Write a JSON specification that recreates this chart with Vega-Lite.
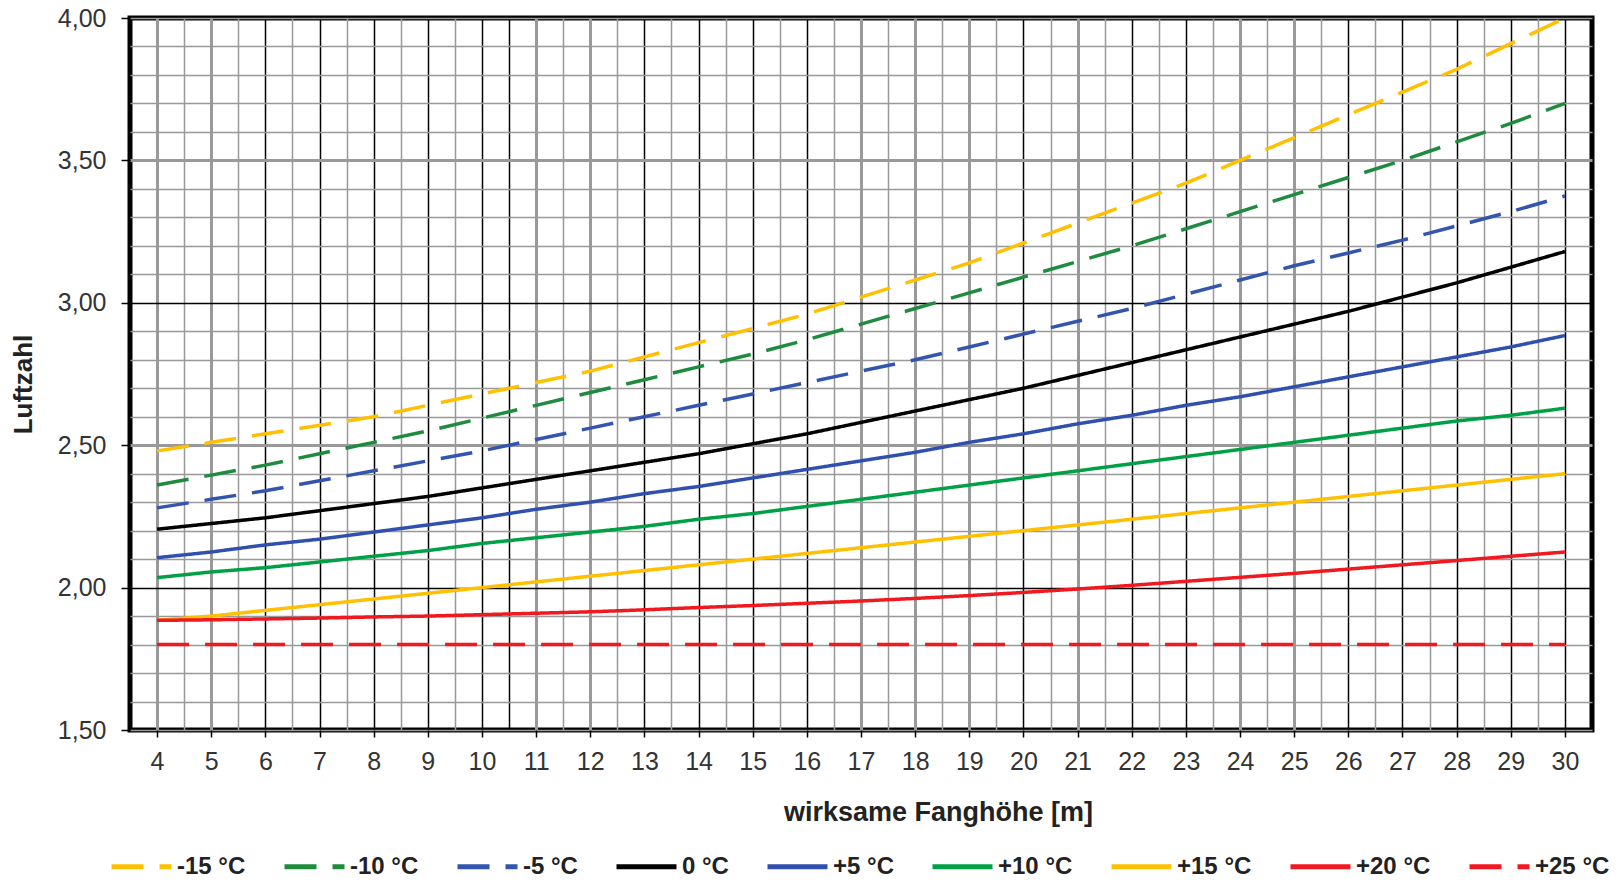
{
"$schema": "https://vega.github.io/schema/vega-lite/v6.json",
"width": 1462, "height": 712,
"autosize": {"type": "none"},
"padding": {"left": 130, "top": 18, "right": 29, "bottom": 151},
"background": "white",
"config": {"view": {"stroke": "#000", "strokeWidth": 5}, "font": "Liberation Sans"},
"data": {"values": [
{"h":4,"t":"-15 °C","v":2.48},{"h":5,"t":"-15 °C","v":2.51},{"h":6,"t":"-15 °C","v":2.54},{"h":7,"t":"-15 °C","v":2.57},{"h":8,"t":"-15 °C","v":2.60},{"h":9,"t":"-15 °C","v":2.64},{"h":10,"t":"-15 °C","v":2.68},{"h":11,"t":"-15 °C","v":2.72},{"h":12,"t":"-15 °C","v":2.76},{"h":13,"t":"-15 °C","v":2.81},{"h":14,"t":"-15 °C","v":2.86},{"h":15,"t":"-15 °C","v":2.91},{"h":16,"t":"-15 °C","v":2.96},{"h":17,"t":"-15 °C","v":3.02},{"h":18,"t":"-15 °C","v":3.08},{"h":19,"t":"-15 °C","v":3.14},{"h":20,"t":"-15 °C","v":3.21},{"h":21,"t":"-15 °C","v":3.28},{"h":22,"t":"-15 °C","v":3.35},{"h":23,"t":"-15 °C","v":3.42},{"h":24,"t":"-15 °C","v":3.50},{"h":25,"t":"-15 °C","v":3.58},{"h":26,"t":"-15 °C","v":3.66},{"h":27,"t":"-15 °C","v":3.74},{"h":28,"t":"-15 °C","v":3.82},{"h":29,"t":"-15 °C","v":3.91},{"h":30,"t":"-15 °C","v":4.00},
{"h":4,"t":"-10 °C","v":2.36},{"h":5,"t":"-10 °C","v":2.395},{"h":6,"t":"-10 °C","v":2.43},{"h":7,"t":"-10 °C","v":2.47},{"h":8,"t":"-10 °C","v":2.51},{"h":9,"t":"-10 °C","v":2.55},{"h":10,"t":"-10 °C","v":2.595},{"h":11,"t":"-10 °C","v":2.64},{"h":12,"t":"-10 °C","v":2.685},{"h":13,"t":"-10 °C","v":2.73},{"h":14,"t":"-10 °C","v":2.775},{"h":15,"t":"-10 °C","v":2.82},{"h":16,"t":"-10 °C","v":2.87},{"h":17,"t":"-10 °C","v":2.925},{"h":18,"t":"-10 °C","v":2.98},{"h":19,"t":"-10 °C","v":3.035},{"h":20,"t":"-10 °C","v":3.09},{"h":21,"t":"-10 °C","v":3.145},{"h":22,"t":"-10 °C","v":3.20},{"h":23,"t":"-10 °C","v":3.26},{"h":24,"t":"-10 °C","v":3.32},{"h":25,"t":"-10 °C","v":3.38},{"h":26,"t":"-10 °C","v":3.44},{"h":27,"t":"-10 °C","v":3.50},{"h":28,"t":"-10 °C","v":3.565},{"h":29,"t":"-10 °C","v":3.63},{"h":30,"t":"-10 °C","v":3.70},
{"h":4,"t":"-5 °C","v":2.28},{"h":5,"t":"-5 °C","v":2.31},{"h":6,"t":"-5 °C","v":2.34},{"h":7,"t":"-5 °C","v":2.375},{"h":8,"t":"-5 °C","v":2.41},{"h":9,"t":"-5 °C","v":2.445},{"h":10,"t":"-5 °C","v":2.48},{"h":11,"t":"-5 °C","v":2.52},{"h":12,"t":"-5 °C","v":2.56},{"h":13,"t":"-5 °C","v":2.60},{"h":14,"t":"-5 °C","v":2.64},{"h":15,"t":"-5 °C","v":2.68},{"h":16,"t":"-5 °C","v":2.72},{"h":17,"t":"-5 °C","v":2.76},{"h":18,"t":"-5 °C","v":2.80},{"h":19,"t":"-5 °C","v":2.845},{"h":20,"t":"-5 °C","v":2.89},{"h":21,"t":"-5 °C","v":2.935},{"h":22,"t":"-5 °C","v":2.98},{"h":23,"t":"-5 °C","v":3.03},{"h":24,"t":"-5 °C","v":3.08},{"h":25,"t":"-5 °C","v":3.13},{"h":26,"t":"-5 °C","v":3.175},{"h":27,"t":"-5 °C","v":3.22},{"h":28,"t":"-5 °C","v":3.27},{"h":29,"t":"-5 °C","v":3.32},{"h":30,"t":"-5 °C","v":3.375},
{"h":4,"t":"0 °C","v":2.205},{"h":5,"t":"0 °C","v":2.225},{"h":6,"t":"0 °C","v":2.245},{"h":7,"t":"0 °C","v":2.27},{"h":8,"t":"0 °C","v":2.295},{"h":9,"t":"0 °C","v":2.32},{"h":10,"t":"0 °C","v":2.35},{"h":11,"t":"0 °C","v":2.38},{"h":12,"t":"0 °C","v":2.41},{"h":13,"t":"0 °C","v":2.44},{"h":14,"t":"0 °C","v":2.47},{"h":15,"t":"0 °C","v":2.505},{"h":16,"t":"0 °C","v":2.54},{"h":17,"t":"0 °C","v":2.58},{"h":18,"t":"0 °C","v":2.62},{"h":19,"t":"0 °C","v":2.66},{"h":20,"t":"0 °C","v":2.70},{"h":21,"t":"0 °C","v":2.745},{"h":22,"t":"0 °C","v":2.79},{"h":23,"t":"0 °C","v":2.835},{"h":24,"t":"0 °C","v":2.88},{"h":25,"t":"0 °C","v":2.925},{"h":26,"t":"0 °C","v":2.97},{"h":27,"t":"0 °C","v":3.02},{"h":28,"t":"0 °C","v":3.07},{"h":29,"t":"0 °C","v":3.125},{"h":30,"t":"0 °C","v":3.18},
{"h":4,"t":"+5 °C","v":2.105},{"h":5,"t":"+5 °C","v":2.125},{"h":6,"t":"+5 °C","v":2.15},{"h":7,"t":"+5 °C","v":2.17},{"h":8,"t":"+5 °C","v":2.195},{"h":9,"t":"+5 °C","v":2.22},{"h":10,"t":"+5 °C","v":2.245},{"h":11,"t":"+5 °C","v":2.275},{"h":12,"t":"+5 °C","v":2.30},{"h":13,"t":"+5 °C","v":2.33},{"h":14,"t":"+5 °C","v":2.355},{"h":15,"t":"+5 °C","v":2.385},{"h":16,"t":"+5 °C","v":2.415},{"h":17,"t":"+5 °C","v":2.445},{"h":18,"t":"+5 °C","v":2.475},{"h":19,"t":"+5 °C","v":2.51},{"h":20,"t":"+5 °C","v":2.54},{"h":21,"t":"+5 °C","v":2.575},{"h":22,"t":"+5 °C","v":2.605},{"h":23,"t":"+5 °C","v":2.64},{"h":24,"t":"+5 °C","v":2.67},{"h":25,"t":"+5 °C","v":2.705},{"h":26,"t":"+5 °C","v":2.74},{"h":27,"t":"+5 °C","v":2.775},{"h":28,"t":"+5 °C","v":2.81},{"h":29,"t":"+5 °C","v":2.845},{"h":30,"t":"+5 °C","v":2.885},
{"h":4,"t":"+10 °C","v":2.035},{"h":5,"t":"+10 °C","v":2.055},{"h":6,"t":"+10 °C","v":2.07},{"h":7,"t":"+10 °C","v":2.09},{"h":8,"t":"+10 °C","v":2.11},{"h":9,"t":"+10 °C","v":2.13},{"h":10,"t":"+10 °C","v":2.155},{"h":11,"t":"+10 °C","v":2.175},{"h":12,"t":"+10 °C","v":2.195},{"h":13,"t":"+10 °C","v":2.215},{"h":14,"t":"+10 °C","v":2.24},{"h":15,"t":"+10 °C","v":2.26},{"h":16,"t":"+10 °C","v":2.285},{"h":17,"t":"+10 °C","v":2.31},{"h":18,"t":"+10 °C","v":2.335},{"h":19,"t":"+10 °C","v":2.36},{"h":20,"t":"+10 °C","v":2.385},{"h":21,"t":"+10 °C","v":2.41},{"h":22,"t":"+10 °C","v":2.435},{"h":23,"t":"+10 °C","v":2.46},{"h":24,"t":"+10 °C","v":2.485},{"h":25,"t":"+10 °C","v":2.51},{"h":26,"t":"+10 °C","v":2.535},{"h":27,"t":"+10 °C","v":2.56},{"h":28,"t":"+10 °C","v":2.585},{"h":29,"t":"+10 °C","v":2.605},{"h":30,"t":"+10 °C","v":2.63},
{"h":4,"t":"+15 °C","v":1.885},{"h":5,"t":"+15 °C","v":1.90},{"h":6,"t":"+15 °C","v":1.92},{"h":7,"t":"+15 °C","v":1.94},{"h":8,"t":"+15 °C","v":1.96},{"h":9,"t":"+15 °C","v":1.98},{"h":10,"t":"+15 °C","v":2.00},{"h":11,"t":"+15 °C","v":2.02},{"h":12,"t":"+15 °C","v":2.04},{"h":13,"t":"+15 °C","v":2.06},{"h":14,"t":"+15 °C","v":2.08},{"h":15,"t":"+15 °C","v":2.10},{"h":16,"t":"+15 °C","v":2.12},{"h":17,"t":"+15 °C","v":2.14},{"h":18,"t":"+15 °C","v":2.16},{"h":19,"t":"+15 °C","v":2.18},{"h":20,"t":"+15 °C","v":2.20},{"h":21,"t":"+15 °C","v":2.22},{"h":22,"t":"+15 °C","v":2.24},{"h":23,"t":"+15 °C","v":2.26},{"h":24,"t":"+15 °C","v":2.28},{"h":25,"t":"+15 °C","v":2.30},{"h":26,"t":"+15 °C","v":2.32},{"h":27,"t":"+15 °C","v":2.34},{"h":28,"t":"+15 °C","v":2.36},{"h":29,"t":"+15 °C","v":2.38},{"h":30,"t":"+15 °C","v":2.40},
{"h":4,"t":"+20 °C","v":1.885},{"h":5,"t":"+20 °C","v":1.887},{"h":6,"t":"+20 °C","v":1.89},{"h":7,"t":"+20 °C","v":1.893},{"h":8,"t":"+20 °C","v":1.897},{"h":9,"t":"+20 °C","v":1.90},{"h":10,"t":"+20 °C","v":1.905},{"h":11,"t":"+20 °C","v":1.91},{"h":12,"t":"+20 °C","v":1.915},{"h":13,"t":"+20 °C","v":1.922},{"h":14,"t":"+20 °C","v":1.93},{"h":15,"t":"+20 °C","v":1.937},{"h":16,"t":"+20 °C","v":1.945},{"h":17,"t":"+20 °C","v":1.953},{"h":18,"t":"+20 °C","v":1.962},{"h":19,"t":"+20 °C","v":1.972},{"h":20,"t":"+20 °C","v":1.983},{"h":21,"t":"+20 °C","v":1.995},{"h":22,"t":"+20 °C","v":2.008},{"h":23,"t":"+20 °C","v":2.022},{"h":24,"t":"+20 °C","v":2.036},{"h":25,"t":"+20 °C","v":2.05},{"h":26,"t":"+20 °C","v":2.065},{"h":27,"t":"+20 °C","v":2.08},{"h":28,"t":"+20 °C","v":2.095},{"h":29,"t":"+20 °C","v":2.11},{"h":30,"t":"+20 °C","v":2.125},
{"h":4,"t":"+25 °C","v":1.80},{"h":5,"t":"+25 °C","v":1.80},{"h":6,"t":"+25 °C","v":1.80},{"h":7,"t":"+25 °C","v":1.80},{"h":8,"t":"+25 °C","v":1.80},{"h":9,"t":"+25 °C","v":1.80},{"h":10,"t":"+25 °C","v":1.80},{"h":11,"t":"+25 °C","v":1.80},{"h":12,"t":"+25 °C","v":1.80},{"h":13,"t":"+25 °C","v":1.80},{"h":14,"t":"+25 °C","v":1.80},{"h":15,"t":"+25 °C","v":1.80},{"h":16,"t":"+25 °C","v":1.80},{"h":17,"t":"+25 °C","v":1.80},{"h":18,"t":"+25 °C","v":1.80},{"h":19,"t":"+25 °C","v":1.80},{"h":20,"t":"+25 °C","v":1.80},{"h":21,"t":"+25 °C","v":1.80},{"h":22,"t":"+25 °C","v":1.80},{"h":23,"t":"+25 °C","v":1.80},{"h":24,"t":"+25 °C","v":1.80},{"h":25,"t":"+25 °C","v":1.80},{"h":26,"t":"+25 °C","v":1.80},{"h":27,"t":"+25 °C","v":1.80},{"h":28,"t":"+25 °C","v":1.80},{"h":29,"t":"+25 °C","v":1.80},{"h":30,"t":"+25 °C","v":1.80}
]},
"mark": {"type": "line", "strokeWidth": 3.5, "strokeCap": "butt", "strokeJoin": "round"},
"encoding": {
  "x": {"field": "h", "type": "quantitative",
    "scale": {"domain": [3.5, 30.5], "nice": false, "zero": false},
    "axis": {
      "values": [4,4.5,5,5.5,6,6.5,7,7.5,8,8.5,9,9.5,10,10.5,11,11.5,12,12.5,13,13.5,14,14.5,15,15.5,16,16.5,17,17.5,18,18.5,19,19.5,20,20.5,21,21.5,22,22.5,23,23.5,24,24.5,25,25.5,26,26.5,27,27.5,28,28.5,29,29.5,30],
      "grid": true,
      "gridColor": {"condition": {"test": "indexof([6,7,8,9,10,10.5,13,14,15,16,20,22,23,26,27,28,29,30], datum.value) >= 0", "value": "#000000"}, "value": "#999999"},
      "gridWidth": {"condition": {"test": "indexof([4,5,11,12,17,18,19,21,24,25], datum.value) >= 0", "value": 3}, "value": 1.5},
      "domain": false,
      "ticks": true,
      "tickColor": "#000", "tickWidth": 1.5, "tickSize": 7,
      "tickOpacity": {"condition": {"test": "datum.value % 1 === 0", "value": 1}, "value": 0},
      "labelExpr": "datum.value % 1 === 0 ? format(datum.value, 'd') : ''",
      "labelFontSize": 25, "labelColor": "#333", "labelPadding": 12,
      "labelFlush": false, "labelOverlap": false, "labelBound": false,
      "title": "wirksame Fanghöhe [m]", "titleFontSize": 27, "titleFontWeight": "bold", "titleColor": "#222",
      "titleX": 808, "titleY": 90, "titleAlign": "center", "titleBaseline": "alphabetic"
    }},
  "y": {"field": "v", "type": "quantitative",
    "scale": {"domain": [1.5, 4.0], "nice": false, "zero": false},
    "axis": {
      "values": [1.5,1.6,1.7,1.8,1.9,2.0,2.1,2.2,2.3,2.4,2.5,2.6,2.7,2.8,2.9,3.0,3.1,3.2,3.3,3.4,3.5,3.6,3.7,3.8,3.9,4.0],
      "grid": true,
      "gridColor": {"condition": {"test": "abs(datum.value-2)<0.001 || abs(datum.value-3)<0.001", "value": "#000000"}, "value": "#999999"},
      "gridWidth": {"condition": {"test": "abs(datum.value-2.5)<0.001 || abs(datum.value-3.5)<0.001", "value": 3}, "value": 1.5},
      "domain": false,
      "tickColor": "#000", "tickWidth": 1.5, "tickSize": 9,
      "tickOpacity": {"condition": {"test": "abs(datum.value*2-round(datum.value*2))<0.001", "value": 1}, "value": 0},
      "labelExpr": "abs(datum.value*2-round(datum.value*2))<0.001 ? replace(format(datum.value, '.2f'), '.', ',') : ''",
      "labelFontSize": 25, "labelColor": "#333", "labelPadding": 15,
      "labelFlush": false, "labelOverlap": false, "labelBound": false,
      "title": "Luftzahl", "titleFontSize": 26, "titleFontWeight": "bold", "titleColor": "#222",
      "titleAngle": -90, "titleX": -107, "titleY": 366, "titleAlign": "center", "titleBaseline": "middle"
    }},
  "color": {"field": "t", "type": "nominal",
    "scale": {"domain": ["-15 °C","-10 °C","-5 °C","0 °C","+5 °C","+10 °C","+15 °C","+20 °C","+25 °C"],
              "range": ["#FFC000","#1E8B3E","#3355B0","#000000","#3050B0","#00A047","#FFC000","#F2181F","#F2181F"]},
    "legend": {"orient": "none", "legendX": -21, "legendY": 816, "direction": "horizontal", "columns": 9,
      "title": null, "symbolType": "stroke", "symbolSize": 3600, "symbolStrokeWidth": 5,
      "labelFont": "Liberation Sans", "labelFontSize": 24, "labelFontWeight": "bold", "labelColor": "#222",
      "labelOffset": 3, "columnPadding": 28, "gridAlign": "each", "padding": 0, "labelLimit": 300}},
  "strokeDash": {"field": "t", "type": "nominal",
    "scale": {"domain": ["-15 °C","-10 °C","-5 °C","0 °C","+5 °C","+10 °C","+15 °C","+20 °C","+25 °C"],
              "range": [[32,16],[32,16],[32,16],[1,0],[1,0],[1,0],[1,0],[1,0],[32,16]]},
    "legend": {"orient": "none", "legendX": -21, "legendY": 816, "direction": "horizontal", "columns": 9,
      "title": null, "symbolType": "stroke", "symbolSize": 3600, "symbolStrokeWidth": 5,
      "labelFont": "Liberation Sans", "labelFontSize": 24, "labelFontWeight": "bold", "labelColor": "#222",
      "labelOffset": 3, "columnPadding": 28, "gridAlign": "each", "padding": 0, "labelLimit": 300}}
}
}
